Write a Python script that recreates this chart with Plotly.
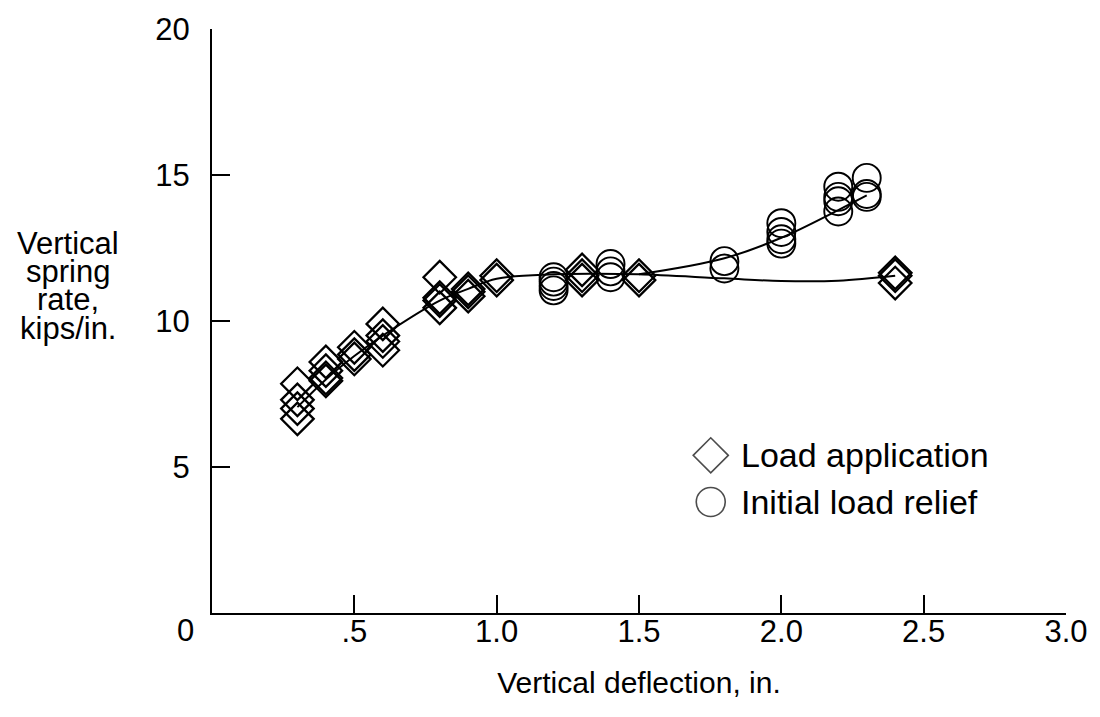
import plotly.graph_objects as go

# ---------------- data ----------------
load_x = [0.3, 0.3, 0.3, 0.3,
          0.4, 0.4, 0.4, 0.4,
          0.5, 0.5, 0.5,
          0.6, 0.6, 0.6, 0.6,
          0.8, 0.8, 0.8, 0.8,
          0.9, 0.9, 0.9,
          1.0, 1.0,
          1.3, 1.3, 1.3,
          1.5, 1.5,
          2.4, 2.4, 2.4]
load_y = [6.65, 7.0, 7.3, 7.85,
          7.95, 8.05, 8.3, 8.6,
          8.7, 8.85, 9.1,
          9.0, 9.3, 9.5, 9.9,
          10.45, 10.7, 10.8, 11.5,
          10.85, 11.0, 11.1,
          11.4, 11.55,
          11.4, 11.55, 11.75,
          11.4, 11.55,
          11.3, 11.55, 11.65]

relief_x = [1.2, 1.2, 1.2, 1.2,
            1.4, 1.4, 1.4,
            1.8, 1.8,
            2.0, 2.0, 2.0, 2.0,
            2.2, 2.2, 2.2, 2.2,
            2.3, 2.3, 2.3]
relief_y = [11.05, 11.2, 11.35, 11.5,
            11.5, 11.7, 11.95,
            11.8, 12.05,
            12.65, 12.8, 13.05, 13.35,
            13.75, 14.1, 14.25, 14.6,
            14.25, 14.35, 14.9]

# faired curves
load_curve_x = [0.3, 0.4, 0.5, 0.6, 0.8, 0.9, 1.0, 1.2, 1.35, 1.5, 1.8, 2.0, 2.2, 2.4]
load_curve_y = [7.05, 8.0, 8.8, 9.5, 10.7, 11.1, 11.45, 11.6, 11.62, 11.6, 11.46, 11.37, 11.38, 11.55]
relief_curve_x = [1.5, 1.8, 2.0, 2.2, 2.3]
relief_curve_y = [11.6, 12.15, 12.85, 13.8, 14.3]

x_tickvals = [0.5, 1.0, 1.5, 2.0, 2.5, 3.0]
x_ticktext = [".5", "1.0", "1.5", "2.0", "2.5", "3.0"]
y_tickvals = [5, 10, 15, 20]
y_ticktext = ["5", "10", "15", "20"]

legend_names = ["Load application", "Initial load relief"]
legend_symbols = ["diamond-open", "circle-open"]
ytitle_lines = ["Vertical", "spring", "rate,", "kips/in."]

FONT = "Liberation Sans, Arial, Helvetica, sans-serif"
BLACK = "#000000"

fig = go.Figure()

fig.add_trace(go.Scatter(x=load_curve_x, y=load_curve_y, mode="lines",
                         line=dict(color=BLACK, width=2, shape="spline", smoothing=1.0),
                         showlegend=False, hoverinfo="skip"))
fig.add_trace(go.Scatter(x=relief_curve_x, y=relief_curve_y, mode="lines",
                         line=dict(color=BLACK, width=2, shape="spline", smoothing=1.0),
                         showlegend=False, hoverinfo="skip"))
fig.add_trace(go.Scatter(x=load_x, y=load_y, mode="markers", name=legend_names[0],
                         marker=dict(symbol="diamond-open", size=25, color=BLACK,
                                     line=dict(width=2.3, color=BLACK)),
                         showlegend=False))
fig.add_trace(go.Scatter(x=relief_x, y=relief_y, mode="markers", name=legend_names[1],
                         marker=dict(symbol="circle-open", size=28, color=BLACK,
                                     line=dict(width=1.9, color=BLACK)),
                         showlegend=False))

# custom legend (larger symbols than plotly's legend allows)
LEG_X = 0.584
LEG_TEXT_X = 0.617
LEG_Y = [0.270, 0.190]
fig.add_trace(go.Scatter(x=[LEG_X, LEG_X], y=LEG_Y, xaxis="x2", yaxis="y2",
                         mode="markers", showlegend=False, hoverinfo="skip",
                         marker=dict(symbol=legend_symbols, size=[27, 29], color=BLACK,
                                     line=dict(width=[1.6, 1.6], color=BLACK))))
for name, yy in zip(legend_names, LEG_Y):
    fig.add_annotation(x=LEG_TEXT_X, y=yy, xref="paper", yref="paper", text=name,
                       showarrow=False, xanchor="left", yanchor="middle",
                       font=dict(family=FONT, size=34, color=BLACK))

# y title lines (paper coords, outside the plot area)
ytitle_y = [0.633, 0.584, 0.536, 0.488]
for line, yy in zip(ytitle_lines, ytitle_y):
    fig.add_annotation(x=-0.169, y=yy, xref="paper", yref="paper", text=line,
                       showarrow=False, xanchor="center", yanchor="middle",
                       font=dict(family=FONT, size=31, color=BLACK))
# corner zero label
fig.add_annotation(x=-0.0315, y=-0.030, xref="paper", yref="paper", text="0",
                   showarrow=False, xanchor="center", yanchor="middle",
                   font=dict(family=FONT, size=31, color=BLACK))

fig.update_layout(
    width=1100, height=717,
    margin=dict(l=212, r=32, t=24, b=104),
    paper_bgcolor="white", plot_bgcolor="white",
    font=dict(family=FONT, size=30, color=BLACK),
    showlegend=False,
    xaxis=dict(range=[0, 3.0], tickvals=x_tickvals, ticktext=x_ticktext,
               ticks="inside", ticklen=18, tickwidth=2, tickcolor=BLACK,
               showline=True, linewidth=2, linecolor=BLACK, showgrid=False,
               zeroline=False, tickfont=dict(size=31), ticklabelstandoff=-10,
               title=dict(text="Vertical deflection, in.", font=dict(size=30), standoff=24)),
    yaxis=dict(range=[0, 20], tickvals=y_tickvals, ticktext=y_ticktext,
               ticks="inside", ticklen=18, tickwidth=2, tickcolor=BLACK,
               showline=True, linewidth=2, linecolor=BLACK, showgrid=False,
               zeroline=False, tickfont=dict(size=31), ticklabelstandoff=14),
    xaxis2=dict(domain=[0, 1], range=[0, 1], overlaying="x", visible=False, anchor="y2"),
    yaxis2=dict(domain=[0, 1], range=[0, 1], overlaying="y", visible=False, anchor="x2"),
)

fig.write_html("out.html")
